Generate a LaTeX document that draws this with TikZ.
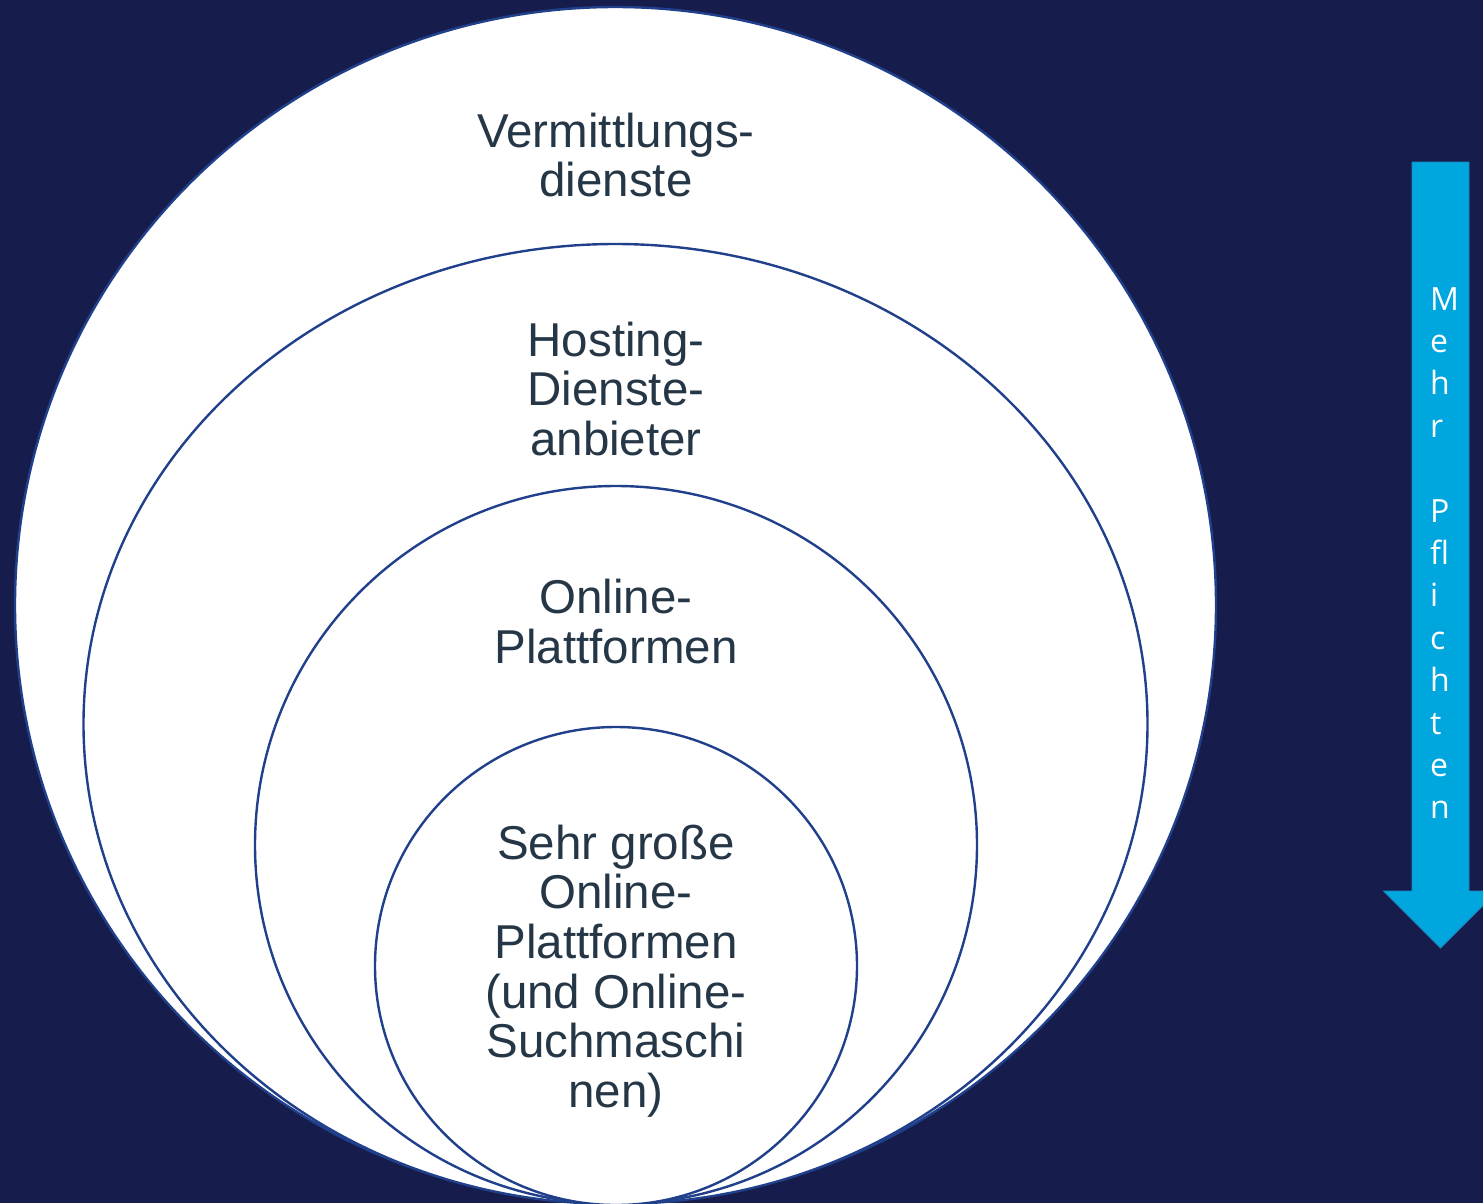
\documentclass[tikz,border=0pt]{standalone}
\usepackage{fontspec}
\setmainfont{Liberation Sans}
\newfontfamily\arrowfont{Open Sans}
\usetikzlibrary{shapes.geometric}
\definecolor{bgnavy}{HTML}{161D4C}
\definecolor{ringblue}{HTML}{21408C}
\definecolor{arrowcyan}{HTML}{00A7DE}
\definecolor{arrowedge}{HTML}{1F86C0}
\definecolor{txtslate}{HTML}{253746}
\tikzset{
  ring/.style={ellipse, draw=ringblue, line width=2.4pt, fill=white, inner sep=0pt, outer sep=0pt},
  ringtext/.style={align=center, text=txtslate, inner sep=0pt, font=\fontsize{47.5}{49.7}\selectfont},
  arrowtext/.style={align=left, text=white, inner sep=0pt, anchor=north west, font=\arrowfont\fontsize{32}{42.4}\selectfont}
}
\begin{document}
\begin{tikzpicture}[x=1pt,y=-1pt]
\useasboundingbox (0,0) rectangle (1483,1203);
\fill[bgnavy] (0,0) rectangle (1483,1203);
\begin{scope}
\clip (0,0) rectangle (1483,1203);
\node[ring, minimum width=1201pt, minimum height=1196pt] (c1) at (615.5,605) {};
\node[ring, minimum width=1064pt, minimum height=960pt] (c2) at (615.5,724) {};
\node[ring, minimum width=722pt, minimum height=718pt] (c3) at (616,845) {};
\node[ring, minimum width=482pt, minimum height=478pt] (c4) at (616,966) {};
\draw[fill=arrowcyan, draw=arrowedge, line width=0.8pt]
  (1412,162) -- (1469,162) -- (1469,891) -- (1497.5,891) -- (1440.5,948)
  -- (1383.5,891) -- (1412,891) -- cycle;
\end{scope}
\node[ringtext] (t1) at (616,155) {Vermittlungs-\\dienste};
\node[ringtext] (t2) at (616,389) {Hosting-\\Dienste-\\anbieter};
\node[ringtext] (t3) at (616,621.5) {Online-\\Plattformen};
\node[ringtext] (t4) at (616,971) {Sehr große\\Online-\\Plattformen\\(und Online-\\Suchmaschi\\nen)};
\node[arrowtext] (at) at (1430,287) {M\\e\\h\\r\\\mbox{}\\P\\fl\\i\\c\\h\\t\\e\\n};
\end{tikzpicture}
\end{document}
